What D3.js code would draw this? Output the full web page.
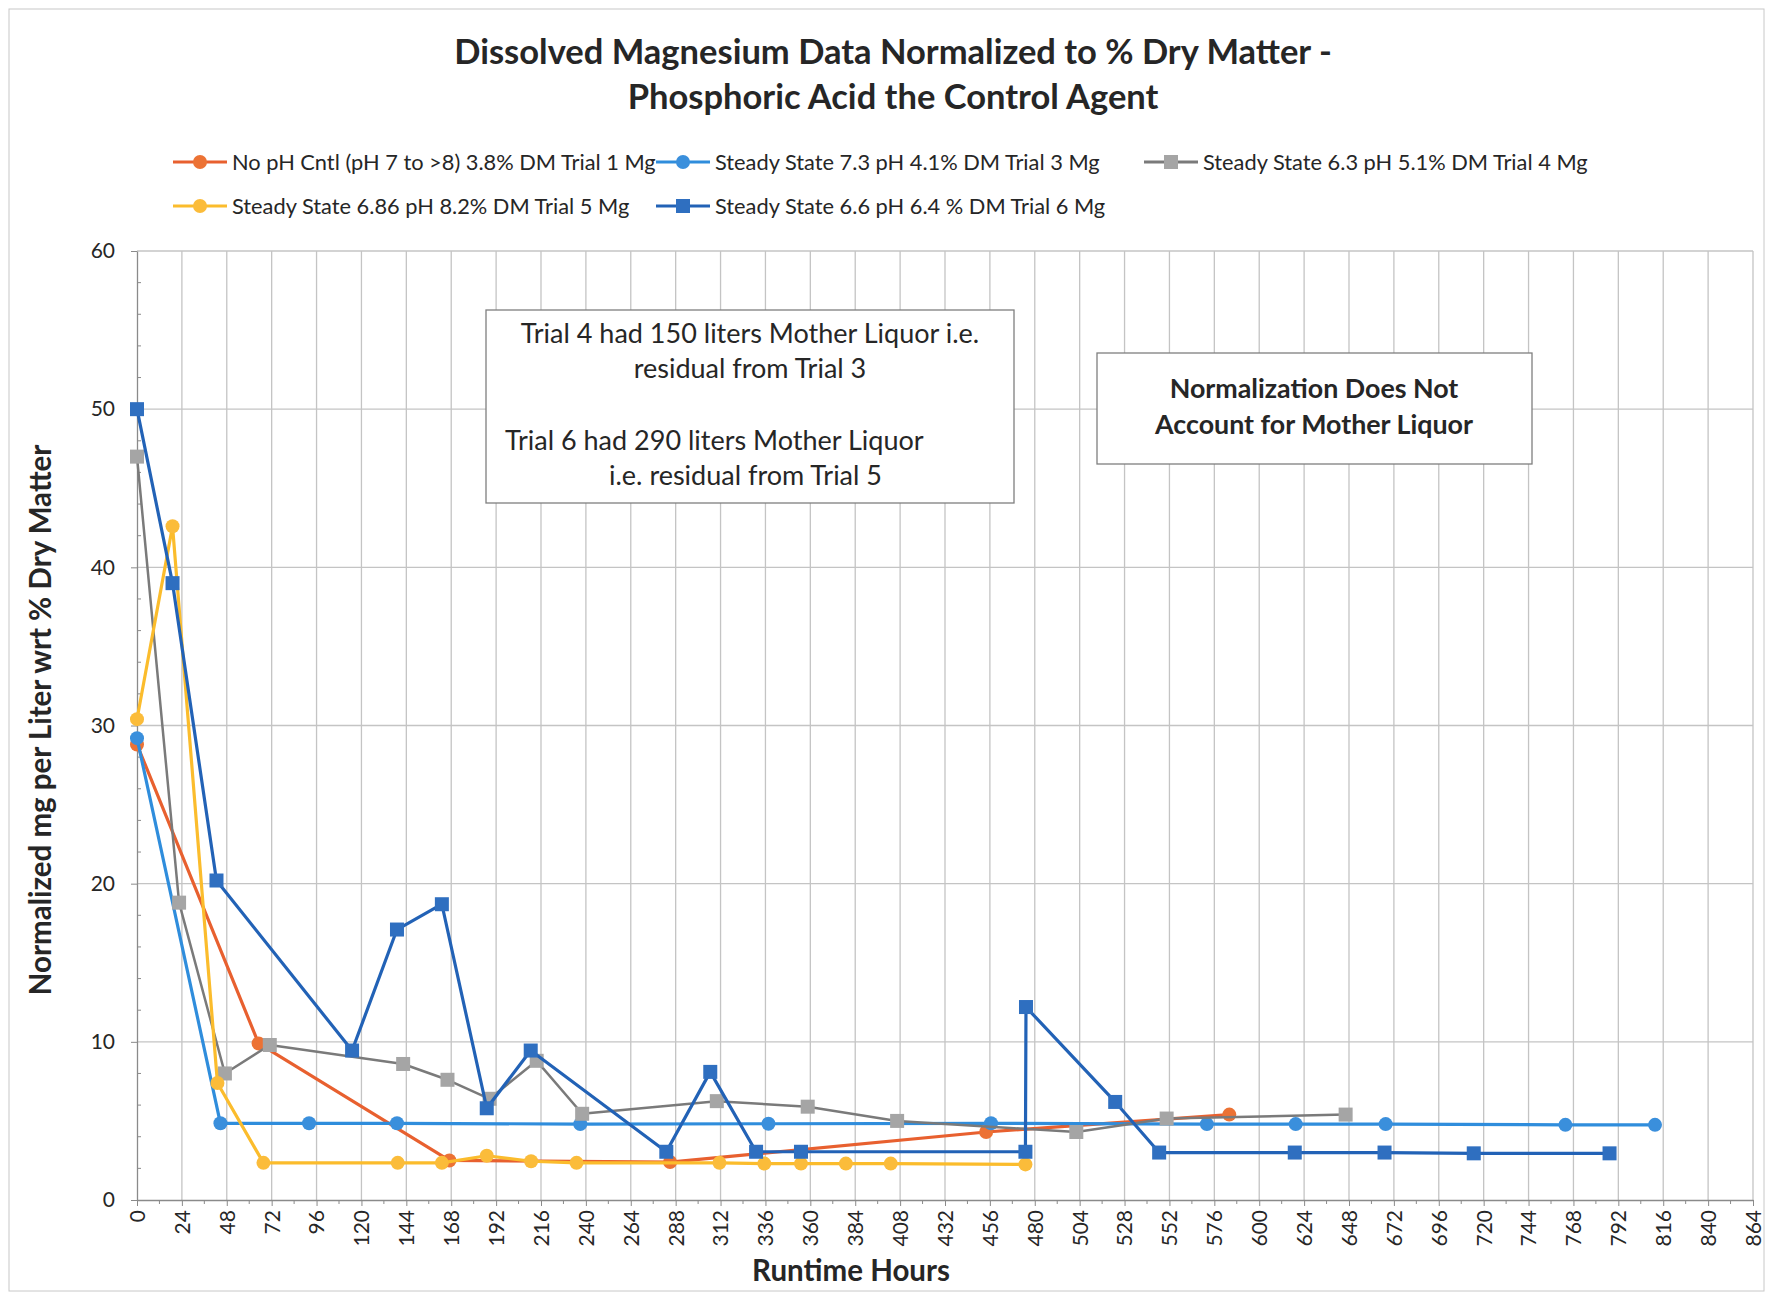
<!DOCTYPE html>
<html>
<head>
<meta charset="utf-8">
<script src="https://cdn.jsdelivr.net/npm/d3@7"></script>
<style>
  body { margin: 0; background: #fff; }
  text { font-family: Lato, "Open Sans", sans-serif; fill: #262626; }
</style>
</head>
<body>
<div id="chart"></div>
<script>
// hours / normalized Mg per series
const trial1Hours = [0, 65, 167, 285, 454, 584];
const trial1Mg = [28.8, 9.9, 2.5, 2.4, 4.3, 5.4];

const trial3Hours = [0, 44.6, 92, 139, 237, 337.6, 456.6, 572, 619.5, 667.6, 763.7, 811.6];
const trial3Mg = [29.2, 4.85, 4.85, 4.85, 4.8, 4.82, 4.85, 4.8, 4.8, 4.8, 4.75, 4.75];

const trial4Hours = [0, 22.5, 47, 71, 142.3, 166, 188.5, 213.7, 238, 310, 358.6, 406.4, 502.2, 550.5, 646.2];
const trial4Mg = [47.0, 18.8, 8.0, 9.8, 8.6, 7.6, 6.4, 8.8, 5.45, 6.25, 5.9, 5.0, 4.3, 5.15, 5.4];

const trial5Hours = [0, 19, 43, 67.6, 139.4, 163, 187, 210.7, 235, 311.4, 335.4, 355, 379, 403, 475];
const trial5Mg = [30.4, 42.6, 7.4, 2.35, 2.35, 2.35, 2.8, 2.45, 2.35, 2.35, 2.3, 2.3, 2.3, 2.3, 2.25];

const trial6Hours = [0, 19, 42.5, 115, 139, 163, 187, 210.5, 283, 306.5, 331, 355, 475, 475.3, 523, 546.5, 619, 667, 714.7, 787.3];
const trial6Mg = [50, 39, 20.2, 9.45, 17.1, 18.7, 5.8, 9.45, 3.05, 8.1, 3.05, 3.05, 3.05, 12.2, 6.2, 3.0, 3.0, 3.0, 2.95, 2.95];

const seriesNames = [
  "No pH Cntl (pH 7 to >8) 3.8% DM Trial 1 Mg",
  "Steady State 7.3 pH 4.1% DM Trial 3 Mg",
  "Steady State 6.3 pH 5.1% DM Trial 4 Mg",
  "Steady State 6.86 pH 8.2% DM Trial 5 Mg",
  "Steady State 6.6 pH 6.4 % DM Trial 6 Mg"
];

const xTicks = d3.range(0, 865, 24);
const yTicks = d3.range(0, 61, 10);

const series = [
  { name: seriesNames[0], hours: trial1Hours, mg: trial1Mg, line: "#e8602f", fill: "#ec7234", shape: "circle" },
  { name: seriesNames[1], hours: trial3Hours, mg: trial3Mg, line: "#2f8ddc", fill: "#3a8fdc", shape: "circle" },
  { name: seriesNames[2], hours: trial4Hours, mg: trial4Mg, line: "#7a7a7a", fill: "#a5a5a5", shape: "square" },
  { name: seriesNames[3], hours: trial5Hours, mg: trial5Mg, line: "#fbbc2c", fill: "#fbbc3a", shape: "circle" },
  { name: seriesNames[4], hours: trial6Hours, mg: trial6Mg, line: "#2262b6", fill: "#2f6fc0", shape: "square" }
];

const width = 1773;
const height = 1298;
const plot = { left: 137, right: 1753, top: 251, bottom: 1200 };

const svg = d3.select("#chart")
  .append("svg")
  .attr("width", width)
  .attr("height", height);

svg.append("rect")
  .attr("x", 9).attr("y", 9)
  .attr("width", width - 18).attr("height", height - 16)
  .attr("fill", "#fff")
  .attr("stroke", "#c8c8c8");

const x = d3.scaleLinear().domain([0, 864]).range([plot.left, plot.right]);
const y = d3.scaleLinear().domain([0, 60]).range([plot.bottom, plot.top]);

// gridlines
svg.append("g")
  .attr("stroke", "#c4c4c4")
  .attr("stroke-width", 1.3)
  .selectAll("line.v")
  .data(xTicks.slice(1))
  .join("line")
  .attr("x1", d => x(d)).attr("x2", d => x(d))
  .attr("y1", plot.top).attr("y2", plot.bottom);

svg.append("g")
  .attr("stroke", "#c4c4c4")
  .attr("stroke-width", 1.3)
  .selectAll("line.h")
  .data(yTicks.slice(1))
  .join("line")
  .attr("x1", plot.left).attr("x2", plot.right)
  .attr("y1", d => y(d)).attr("y2", d => y(d));

// axes
const xAxis = svg.append("g")
  .attr("transform", `translate(0,${plot.bottom})`)
  .call(d3.axisBottom(x).tickValues(xTicks).tickSize(6).tickSizeOuter(0));
xAxis.select(".domain").attr("stroke", "#8a8a8a").attr("stroke-width", 1.3);
xAxis.selectAll(".tick line").attr("stroke", "#8a8a8a");
xAxis.selectAll(".tick text")
  .attr("font-size", 21)
  .attr("fill", "#333")
  .attr("transform", "rotate(-90)")
  .attr("text-anchor", "end")
  .attr("x", -10)
  .attr("y", 0)
  .attr("dy", "0.35em");

svg.append("g")
  .attr("stroke", "#8a8a8a")
  .selectAll("line")
  .data(d3.range(12, 864, 24))
  .join("line")
  .attr("x1", d => x(d)).attr("x2", d => x(d))
  .attr("y1", plot.bottom).attr("y2", plot.bottom + 4);

const yAxis = svg.append("g")
  .attr("transform", `translate(${plot.left},0)`)
  .call(d3.axisLeft(y).tickValues(yTicks).tickSize(6).tickSizeOuter(0).tickPadding(16));
yAxis.select(".domain").attr("stroke", "#8a8a8a").attr("stroke-width", 1.3);
yAxis.selectAll(".tick line").attr("stroke", "#8a8a8a");
yAxis.selectAll(".tick text").attr("font-size", 21).attr("fill", "#333");

svg.append("g")
  .attr("stroke", "#8a8a8a")
  .selectAll("line")
  .data(d3.range(2, 60, 2).filter(d => d % 10 !== 0))
  .join("line")
  .attr("x1", plot.left).attr("x2", plot.left + 4)
  .attr("y1", d => y(d)).attr("y2", d => y(d));

// series
const line = d3.line().x(d => x(d[0])).y(d => y(d[1]));

series.forEach(s => {
  const pts = s.hours.map((h, i) => [h, s.mg[i]]);
  const g = svg.append("g");
  g.append("path")
    .datum(pts)
    .attr("d", line)
    .attr("fill", "none")
    .attr("stroke", s.line)
    .attr("stroke-width", s.line === "#7a7a7a" ? 2.5 : 3.2)
    .attr("stroke-linejoin", "round");
  if (s.shape === "circle") {
    g.selectAll("circle")
      .data(pts)
      .join("circle")
      .attr("cx", d => x(d[0]))
      .attr("cy", d => y(d[1]))
      .attr("r", 7)
      .attr("fill", s.fill);
  } else {
    g.selectAll("rect")
      .data(pts)
      .join("rect")
      .attr("x", d => x(d[0]) - 7)
      .attr("y", d => y(d[1]) - 7)
      .attr("width", 14)
      .attr("height", 14)
      .attr("fill", s.fill);
  }
});

// title
svg.append("g")
  .selectAll("text")
  .data(["Dissolved Magnesium Data Normalized to % Dry Matter -", "Phosphoric Acid the Control Agent"])
  .join("text")
  .attr("x", 893)
  .attr("y", (d, i) => 55 + i * 45)
  .attr("text-anchor", "middle")
  .attr("dominant-baseline", "middle")
  .attr("font-size", 34.5)
  .attr("font-weight", "bold")
  .attr("fill", "#404040")
  .text(d => d);

// legend
const legendPos = [[173, 162], [656, 162], [1144, 162], [173, 206], [656, 206]];
series.forEach((s, i) => {
  const [lx, ly] = legendPos[i];
  const g = svg.append("g").attr("transform", `translate(${lx},${ly})`);
  g.append("line")
    .attr("x1", 0).attr("x2", 54)
    .attr("stroke", s.line)
    .attr("stroke-width", 3.2);
  if (s.shape === "circle") {
    g.append("circle").attr("cx", 27).attr("r", 7).attr("fill", s.fill);
  } else {
    g.append("rect").attr("x", 20).attr("y", -7).attr("width", 14).attr("height", 14).attr("fill", s.fill);
  }
  g.append("text")
    .attr("x", 59)
    .attr("dy", "0.35em")
    .attr("font-size", 21.8)
    .text(s.name);
});

// axis titles
svg.append("text")
  .attr("transform", "translate(43,720) rotate(-90)")
  .attr("text-anchor", "middle")
  .attr("dominant-baseline", "middle")
  .attr("font-size", 29.5)
  .attr("font-weight", "bold")
  .attr("fill", "#404040")
  .text("Normalized mg per Liter wrt % Dry Matter");

svg.append("text")
  .attr("x", 851).attr("y", 1273)
  .attr("text-anchor", "middle")
  .attr("dominant-baseline", "middle")
  .attr("font-size", 29.5)
  .attr("font-weight", "bold")
  .attr("fill", "#404040")
  .text("Runtime Hours");

// annotation boxes
svg.append("rect")
  .attr("x", 486).attr("y", 310)
  .attr("width", 528).attr("height", 193)
  .attr("fill", "#fff")
  .attr("stroke", "#7f7f7f")
  .attr("stroke-width", 1.3);

const note1 = [
  { t: "Trial 4 had 150 liters Mother Liquor i.e.", x: 750, y: 336, a: "middle" },
  { t: "residual from Trial 3", x: 750, y: 371, a: "middle" },
  { t: "Trial 6 had 290 liters Mother Liquor", x: 505, y: 443, a: "start" },
  { t: "i.e. residual from Trial 5", x: 609, y: 478, a: "start" }
];
svg.append("g")
  .selectAll("text")
  .data(note1)
  .join("text")
  .attr("x", d => d.x).attr("y", d => d.y)
  .attr("text-anchor", d => d.a)
  .attr("dominant-baseline", "middle")
  .attr("font-size", 27)
  .attr("fill", "#1a1a1a")
  .text(d => d.t);

svg.append("rect")
  .attr("x", 1097).attr("y", 353)
  .attr("width", 435).attr("height", 111)
  .attr("fill", "#fff")
  .attr("stroke", "#7f7f7f")
  .attr("stroke-width", 1.3);

svg.append("g")
  .selectAll("text")
  .data(["Normalization Does Not", "Account for Mother Liquor"])
  .join("text")
  .attr("x", 1314)
  .attr("y", (d, i) => 391 + i * 36)
  .attr("text-anchor", "middle")
  .attr("dominant-baseline", "middle")
  .attr("font-size", 26.8)
  .attr("font-weight", "bold")
  .attr("fill", "#1a1a1a")
  .text(d => d);
</script>
</body>
</html>
